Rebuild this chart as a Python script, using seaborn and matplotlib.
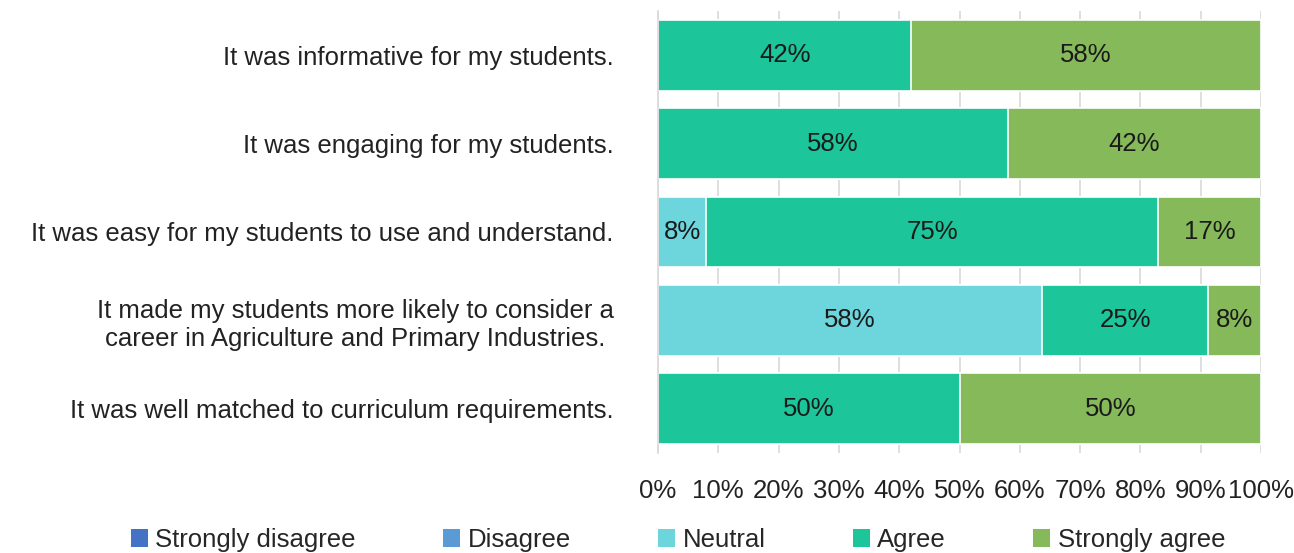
import numpy as np
import pandas as pd
import matplotlib
matplotlib.use("Agg")
import matplotlib.pyplot as plt
from matplotlib.patches import Patch
import seaborn as sns

questions = [
    "It was informative for my students.",
    "It was engaging for my students.",
    "It was easy for my students to use and understand.",
    "It made my students more likely to consider a\ncareer in Agriculture and Primary Industries.",
    "It was well matched to curriculum requirements.",
]
categories = ["Strongly disagree", "Disagree", "Neutral", "Agree", "Strongly agree"]
strongly_disagree = [0, 0, 0, 0, 0]
disagree = [0, 0, 0, 0, 0]
neutral = [0, 0, 8, 58, 0]
agree = [42, 58, 75, 25, 50]
strongly_agree = [58, 42, 17, 8, 50]
colors = ["#4472C4", "#5B9BD5", "#6DD5DC", "#1CC69A", "#86B95A"]
xticks = [0, 10, 20, 30, 40, 50, 60, 70, 80, 90, 100]

sns.set_theme(style="white")
plt.rcParams["font.family"] = ["Liberation Sans Narrow", "Liberation Sans", "DejaVu Sans"]
FS = 18.5

vals = np.array([strongly_disagree, disagree, neutral, agree, strongly_agree], dtype=float)
shares = vals / vals.sum(axis=0) * 100  # 100% stacked
cum = np.cumsum(shares, axis=0)

fig = plt.figure(figsize=(12.94, 5.53), dpi=100)
ax = fig.add_axes([658 / 1294, 1 - 453 / 553, 603 / 1294, 442 / 553])

for i in range(len(categories) - 1, -1, -1):
    df = pd.DataFrame({"q": questions, "v": cum[i]})
    sns.barplot(data=df, x="v", y="q", color=colors[i], orient="h", width=0.8,
                ax=ax, saturation=1, edgecolor="white", linewidth=1.2, zorder=2)

for i in range(len(categories)):
    for j in range(len(questions)):
        if vals[i, j] > 0:
            ax.text(cum[i, j] - shares[i, j] / 2, j, f"{int(vals[i, j])}%",
                    ha="center", va="center", fontsize=FS, color="#1a1a1a", zorder=3)

ax.set_xlim(0, 100)
ax.set_ylim(4.5, -0.5)
ax.set_xticks(xticks)
ax.set_xticklabels([f"{t}%" for t in xticks], fontsize=FS, color="#222222")
ax.tick_params(axis="x", pad=19, length=0)
ax.tick_params(axis="y", pad=32, length=0, labelsize=FS, labelcolor="#222222")
for lab in ax.get_yticklabels():
    lab.set_multialignment("center")
ax.set_xlabel("")
ax.set_ylabel("")
ax.xaxis.grid(True, color="#d9d9d9", linewidth=1.2, zorder=0)
ax.set_axisbelow(True)
for s in ["top", "right", "bottom"]:
    ax.spines[s].set_visible(False)
ax.spines["left"].set_color("#d9d9d9")
ax.spines["left"].set_linewidth(1.2)

handles = [Patch(facecolor=c, edgecolor="none") for c in colors]
fig.legend(handles, categories, loc="lower center", bbox_to_anchor=(0.524, -0.04),
           ncol=5, frameon=False, fontsize=FS, handlelength=0.65, handleheight=0.65,
           handletextpad=0.3, columnspacing=3.4)

fig.savefig("out.png", dpi=100)
